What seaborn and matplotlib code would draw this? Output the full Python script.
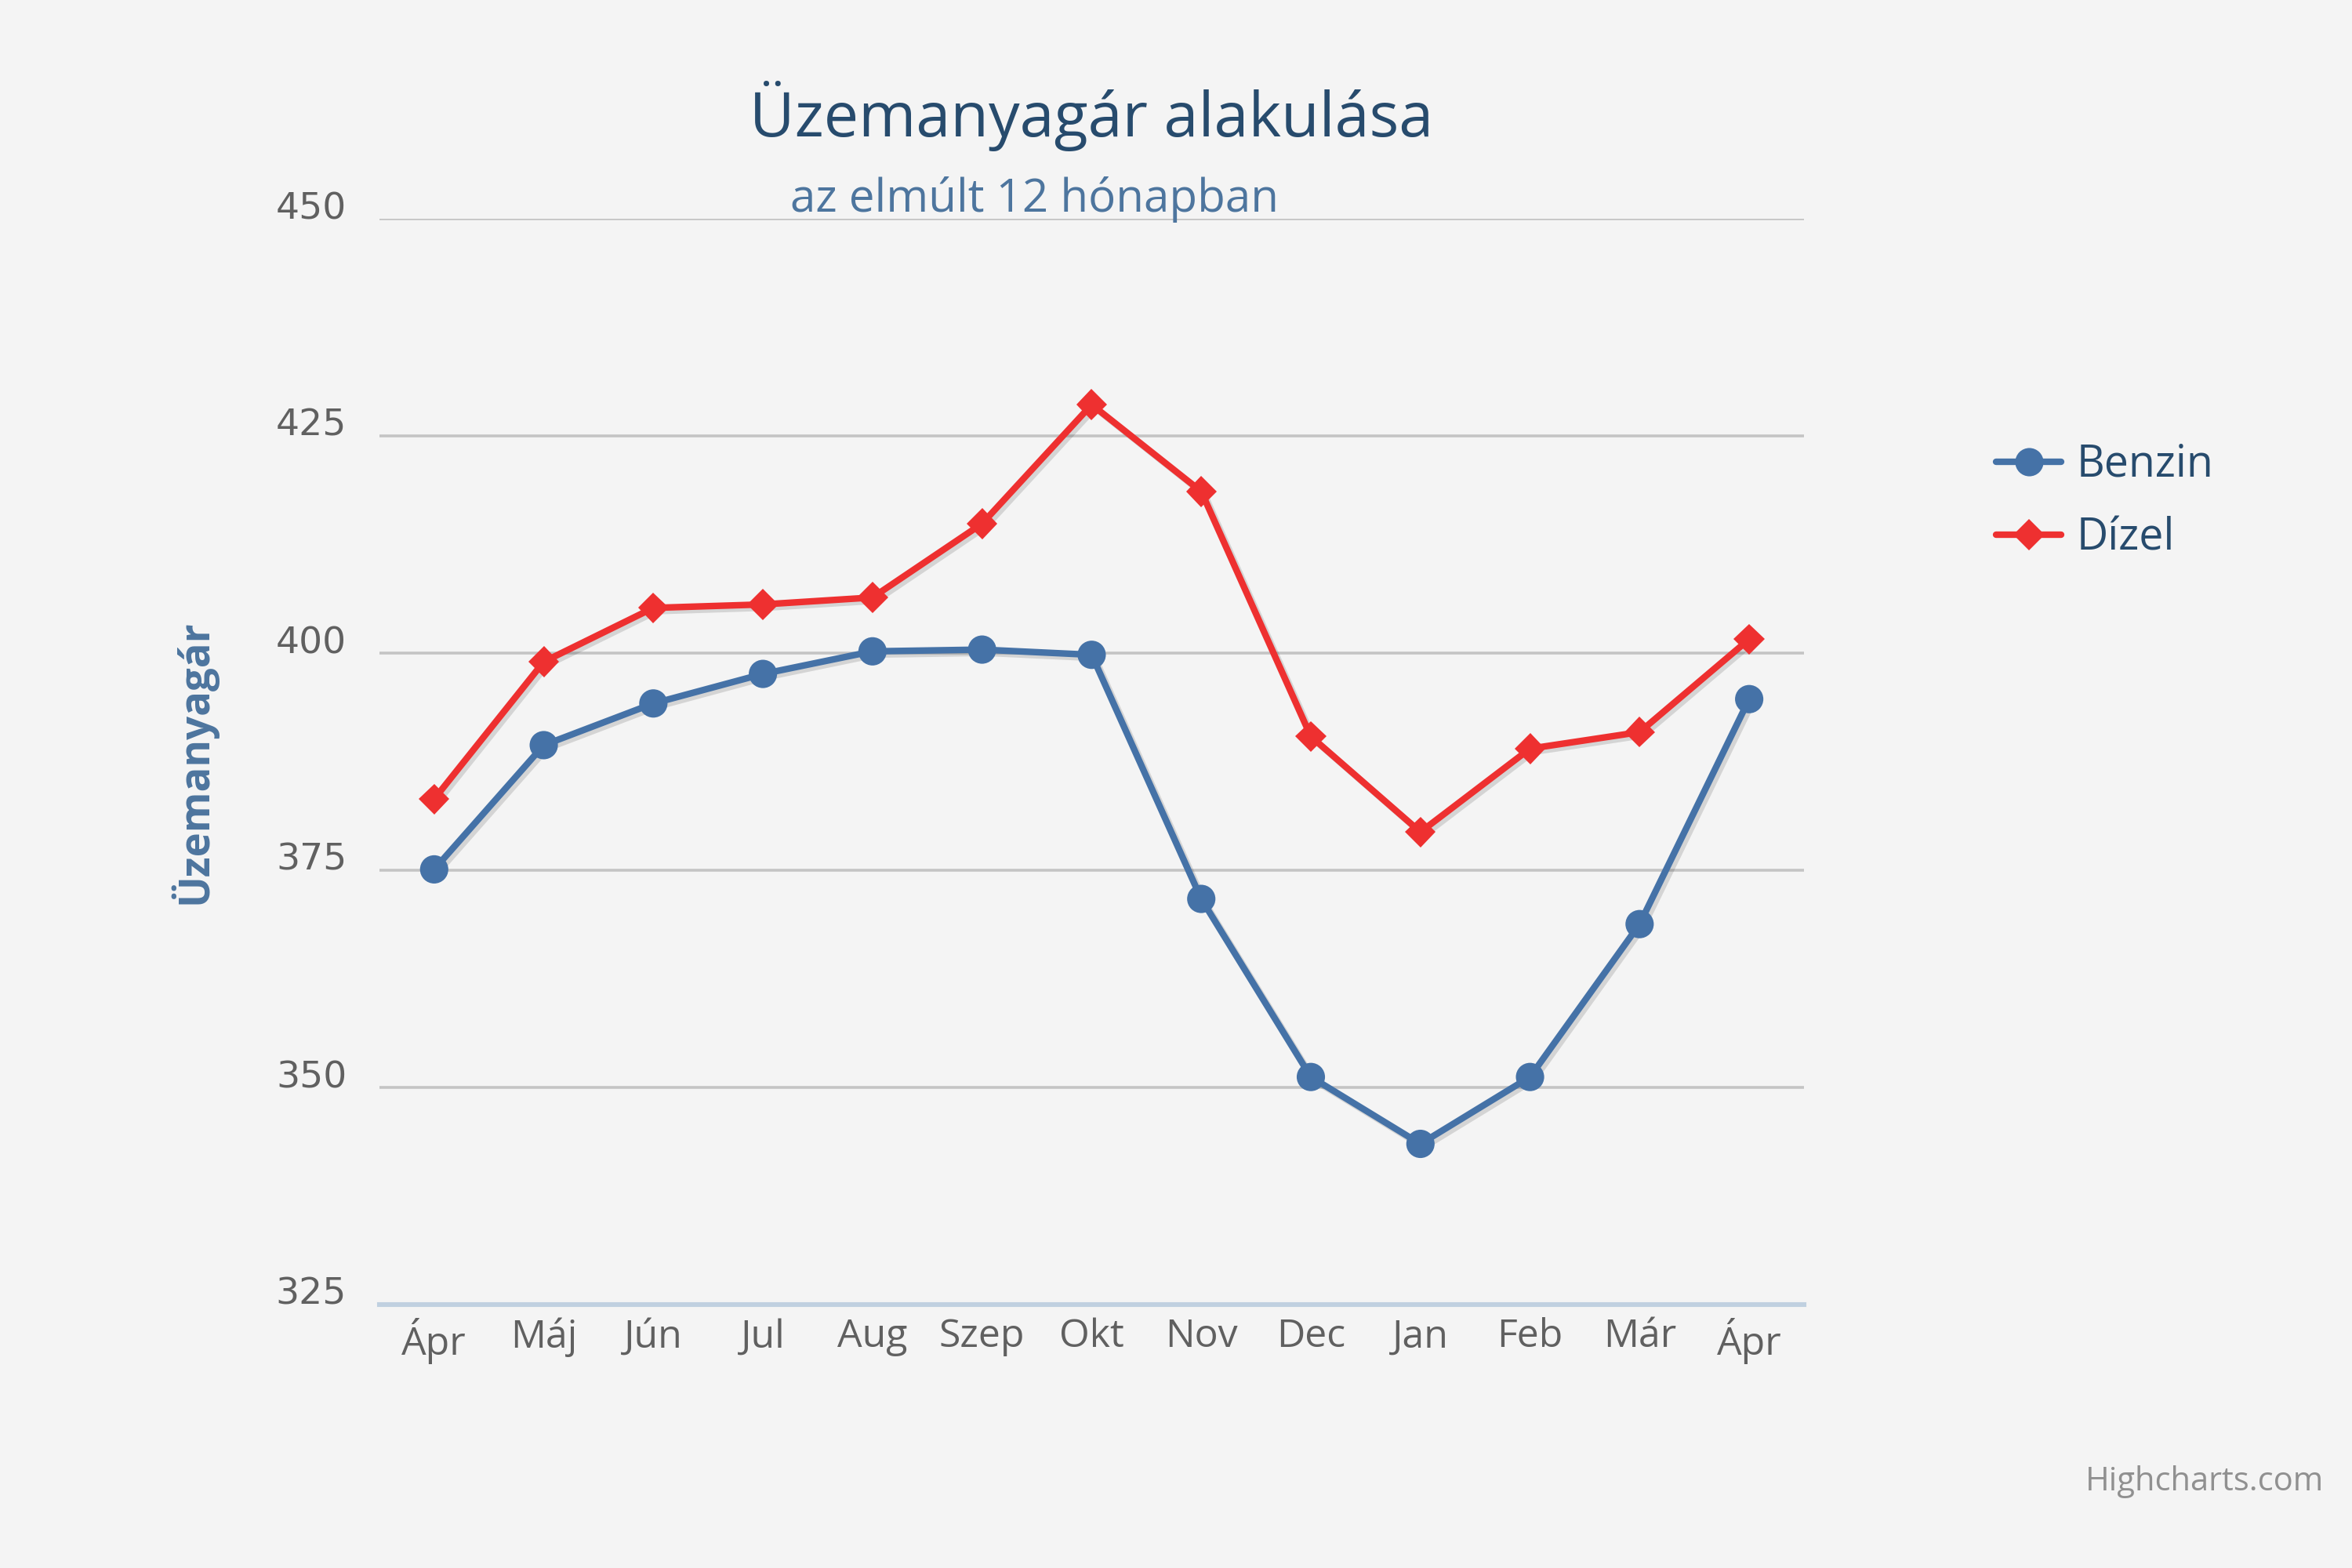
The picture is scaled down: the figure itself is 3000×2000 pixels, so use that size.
import matplotlib
matplotlib.use("Agg")
import matplotlib.pyplot as plt
import matplotlib.patheffects as pe
from matplotlib.ticker import FixedLocator, NullFormatter
from matplotlib.lines import Line2D
import seaborn as sns
import pandas as pd
import numpy as np

# ---- data ----
months = ["Ápr", "Máj", "Jún", "Jul", "Aug", "Szep", "Okt", "Nov", "Dec", "Jan", "Feb", "Már", "Ápr"]
benzin = [375.1, 389.4, 394.2, 397.6, 400.2, 400.4, 399.8, 371.7, 351.2, 343.5, 351.2, 368.8, 394.7]
dizel = [383.2, 399.0, 405.2, 405.6, 406.4, 414.9, 428.6, 418.6, 390.4, 379.4, 389.0, 390.9, 401.6]
series_names = ["Benzin", "Dízel"]
y_ticks = [325, 350, 375, 400, 425, 450]

title = "Üzemanyagár alakulása"
subtitle = "az elmúlt 12 hónapban"
y_title = "Üzemanyagár"
credit = "Highcharts.com"

# ---- style ----
bg = "#f4f4f4"
c_benzin = "#4572a7"
c_dizel = "#ee3030"
sns.set_theme(style="white")
plt.rcParams["font.family"] = ["Open Sans", "DejaVu Sans"]

df = pd.DataFrame({
    "idx": list(range(len(months))) * 2,
    "value": benzin + dizel,
    "series": [series_names[0]] * len(months) + [series_names[1]] * len(months),
})

fig = plt.figure(figsize=(15, 10), dpi=200, facecolor=bg)
ax = fig.add_axes([0.1613, 0.168, 0.6057, 0.6925])
ax.set_facecolor(bg)

LW = 3.0
MS_O = 13
MS_D = 10
sns.lineplot(
    data=df, x="idx", y="value", hue="series", style="series",
    palette={series_names[0]: c_benzin, series_names[1]: c_dizel},
    markers={series_names[0]: "o", series_names[1]: "D"},
    dashes=False, linewidth=LW, markeredgewidth=0, ax=ax, legend=False,
    sort=False,
)
for line in ax.lines:
    if line.get_marker() == "o":
        line.set_markersize(MS_O)
    else:
        line.set_markersize(MS_D)
    line.set_path_effects([pe.SimpleLineShadow(offset=(1.5, -1.5), shadow_color="#000000", alpha=0.13),
                           pe.Normal()])

ax.set_xlim(-0.5, len(months) - 0.5)
ax.set_ylim(325, 450)
ax.set_yticks(y_ticks)
ax.set_yticklabels([str(v) for v in y_ticks])
for lbl in ax.get_yticklabels():
    lbl.set_fontfamily("DejaVu Sans")
    lbl.set_fontsize(17)
    lbl.set_color("#606060")
    lbl.set_verticalalignment("baseline")
ax.yaxis.grid(True, color="#c4c4c4", linewidth=1.3)
ax.xaxis.grid(False)
ax.tick_params(axis="y", length=0, pad=15)

ax.set_xticks(range(len(months)))
ax.set_xticklabels(months, fontsize=18, color="#606060")
ax.xaxis.set_minor_locator(FixedLocator(np.arange(-0.5, len(months), 1.0)))
ax.xaxis.set_minor_formatter(NullFormatter())
ax.tick_params(axis="x", which="major", length=0, pad=6)
ax.tick_params(axis="x", which="minor", length=7, width=1.2, color="#c0d0e0", direction="out")

for s in ["top", "right", "left"]:
    ax.spines[s].set_visible(False)
ax.spines["bottom"].set_color("#c0d0e0")
ax.spines["bottom"].set_linewidth(2.2)
ax.set_xlabel("")
ax.set_ylabel(y_title, fontsize=19, color="#4d759e", fontweight="bold", labelpad=27)

fig.text(0.464, 0.926, title, ha="center", va="center", fontsize=28.5, color="#274b6d")
fig.text(0.44, 0.873, subtitle, ha="center", va="center", fontsize=21, color="#4d759e")
fig.text(0.988, 0.055, credit, ha="right", va="center", fontsize=15, color="#909090")

handles = [
    Line2D([], [], color=c_benzin, marker="o", markersize=MS_O, linewidth=LW, markeredgewidth=0),
    Line2D([], [], color=c_dizel, marker="D", markersize=MS_D, linewidth=LW, markeredgewidth=0),
]
leg = fig.legend(handles, series_names, loc="center left", bbox_to_anchor=(0.832, 0.68),
                 frameon=False, fontsize=20, handlelength=1.5, handletextpad=0.35,
                 labelspacing=0.65)
for t in leg.get_texts():
    t.set_color("#274b6d")

fig.savefig("out.png", dpi=200, facecolor=bg)
